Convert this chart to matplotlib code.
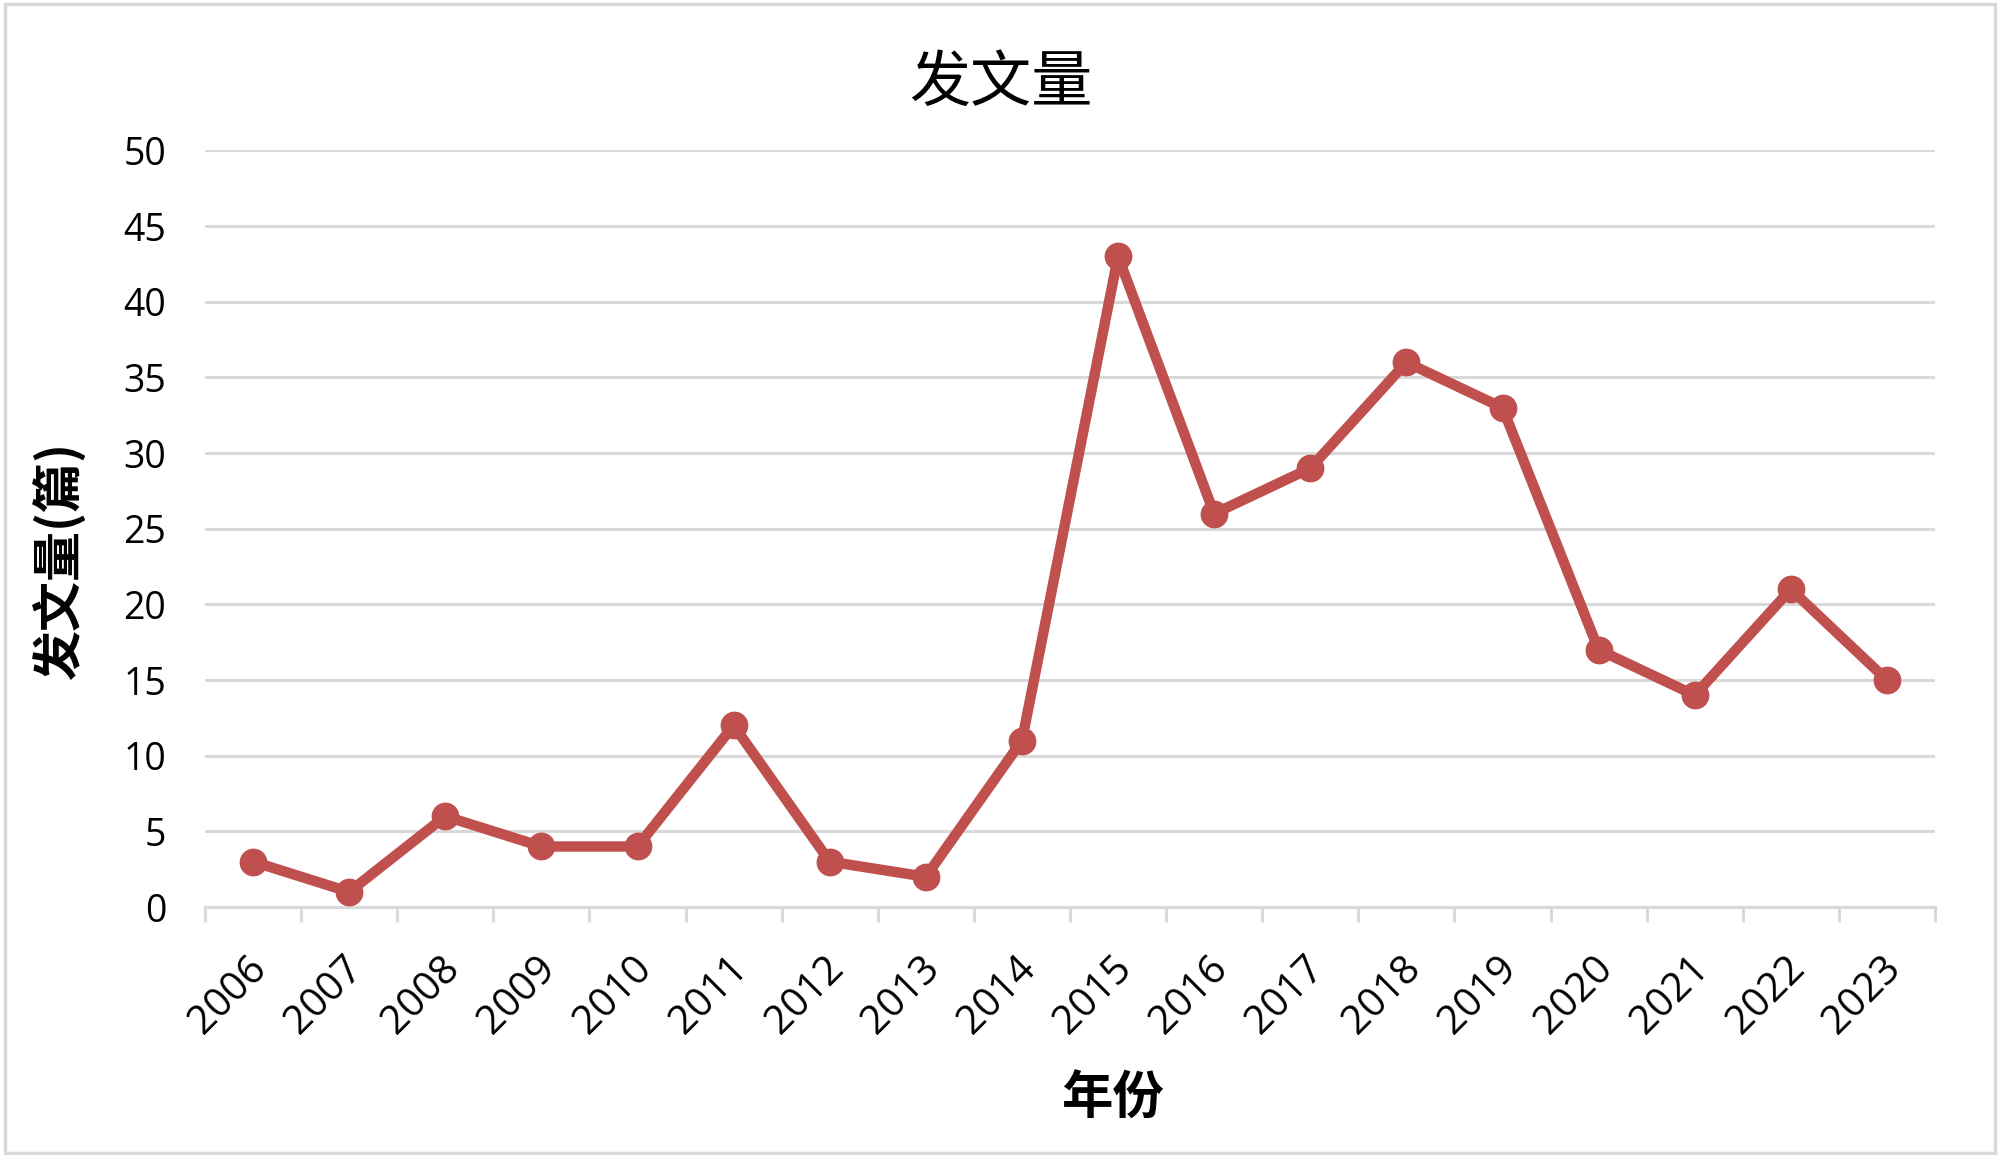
import matplotlib
matplotlib.use("Agg")
import matplotlib.pyplot as plt
from matplotlib.patches import Rectangle
from matplotlib.ticker import FixedLocator
from matplotlib.transforms import ScaledTranslation

years = ["2006", "2007", "2008", "2009", "2010", "2011", "2012", "2013", "2014",
         "2015", "2016", "2017", "2018", "2019", "2020", "2021", "2022", "2023"]
counts = [3, 1, 6, 4, 4, 12, 3, 2, 11, 43, 26, 29, 36, 33, 17, 14, 21, 15]
yticks = [0, 5, 10, 15, 20, 25, 30, 35, 40, 45, 50]

title = "发文量"
xlabel = "年份"
ylabel = "发文量(篇)"

cjk = ["Noto Sans CJK SC", "DejaVu Sans"]
num_font = ["Open Sans", "DejaVu Sans"]

fig = plt.figure(figsize=(20, 11.55), dpi=100)
ax = fig.add_axes([0.1025, 0.2147, 0.865, 0.655])

grid_c = "#D9D9D9"
line_c = "#C0504D"

x = list(range(len(years)))
ax.plot(x, counts, color=line_c, lw=7.5, marker="o", markersize=19,
        markerfacecolor=line_c, markeredgecolor=line_c, zorder=3,
        solid_joinstyle="round", solid_capstyle="round")

ax.set_xlim(-0.5, len(years) - 0.5)
ax.set_ylim(0, 50)
ax.set_yticks(yticks)
ax.set_yticklabels([str(v) for v in yticks], fontfamily=num_font, fontsize=27)
ax.tick_params(axis="y", length=0, pad=28)

ax.set_xticks(x)
ax.set_xticklabels(years, fontfamily=num_font, fontsize=29, rotation=45,
                   ha="right", va="center", rotation_mode="anchor")
ax.tick_params(axis="x", which="major", length=0, pad=40)
offset = ScaledTranslation(8 / 100, 0, fig.dpi_scale_trans)
for lab in ax.get_xticklabels():
    lab.set_transform(lab.get_transform() + offset)
ax.xaxis.set_minor_locator(FixedLocator([i - 0.5 for i in range(len(years) + 1)]))
ax.tick_params(axis="x", which="minor", length=11, width=2.2, color=grid_c)

ax.yaxis.grid(True, color=grid_c, lw=2.2)
ax.set_axisbelow(True)
for s in ["top", "right", "left"]:
    ax.spines[s].set_visible(False)
ax.spines["bottom"].set_color(grid_c)
ax.spines["bottom"].set_linewidth(2.2)

fig.text(0.5005, 1 - 84 / 1155, title, fontfamily=cjk, fontsize=44,
         ha="center", va="center")
fig.text(0.556, 1 - 1098 / 1155, xlabel, fontfamily=cjk, fontsize=37,
         fontweight="bold", ha="center", va="center")
fig.text(0.030, 1 - 561 / 1155, ylabel, fontfamily=cjk, fontsize=36,
         fontweight="bold", ha="center", va="center", rotation=90)

fig.patches.append(Rectangle((0.0025, 0.002), 0.995, 0.9945, transform=fig.transFigure,
                             fill=False, edgecolor=grid_c, lw=2.5))

fig.savefig("out.png", dpi=100, facecolor="white")
